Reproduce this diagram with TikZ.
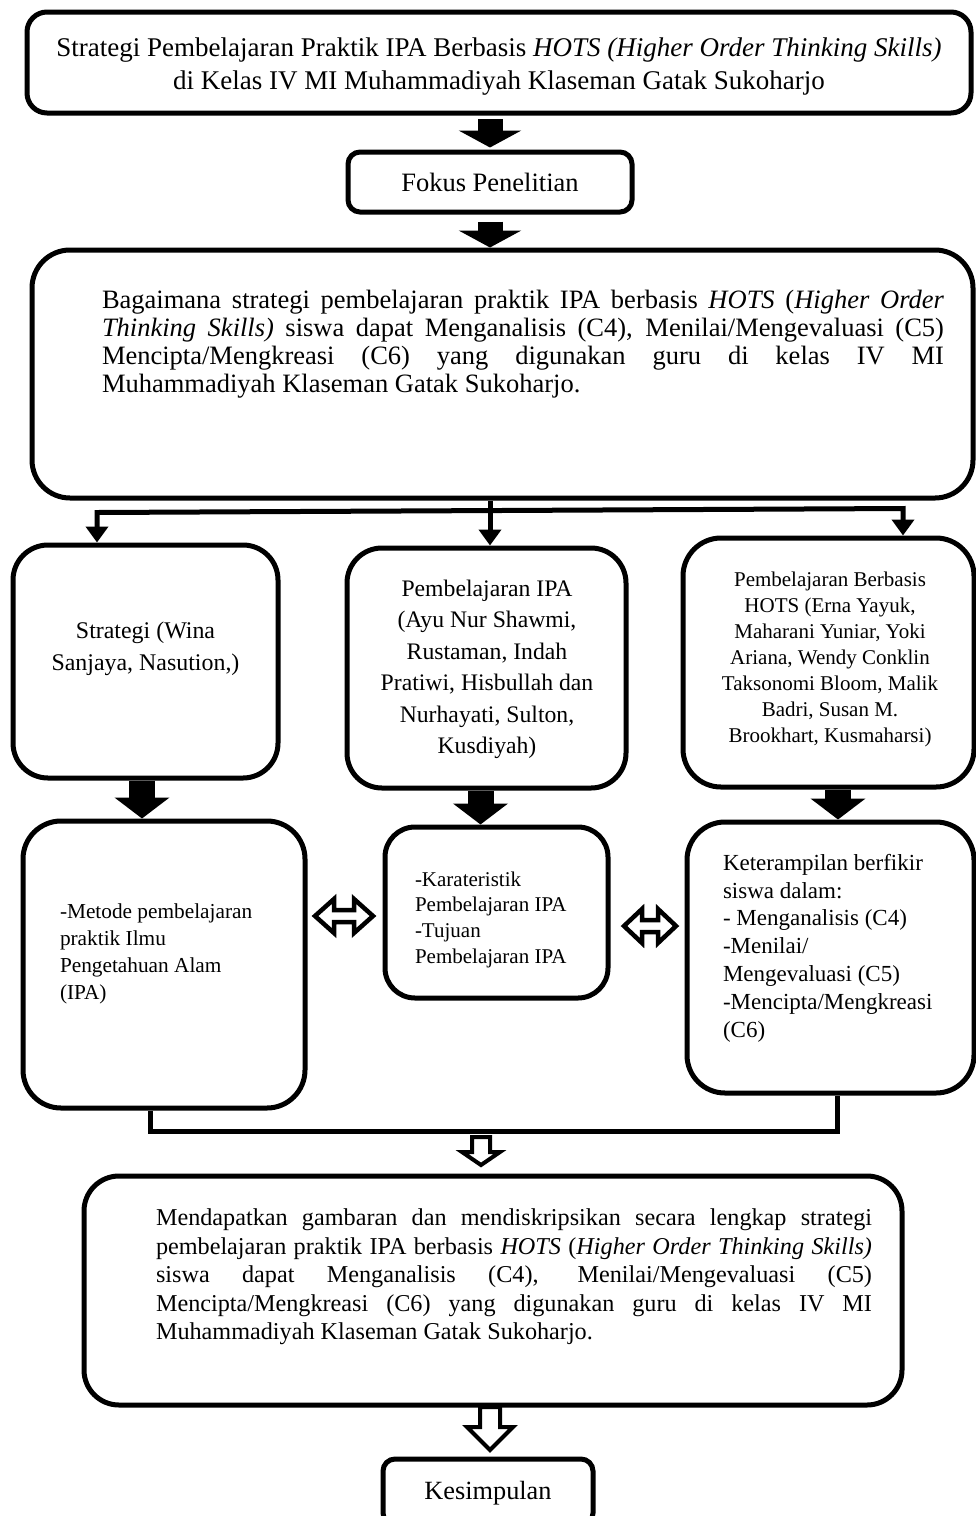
\documentclass[tikz,border=0pt]{standalone}
\usepackage{fontspec}
\setmainfont{Liberation Serif}
\usetikzlibrary{arrows.meta,calc}
\newcommand{\setfs}[2]{\fontsize{#1pt}{#2pt}\selectfont}
\tolerance=9999
\hyphenpenalty=10000
\exhyphenpenalty=10000
\tikzset{
  pics/hdown/.style n args={4}{code={
    \draw[line width=4pt, fill=white, line join=miter]
      (-#1,-#3) -- (#1,-#3) -- (#1,#3-#4) -- (#2,#3-#4) -- (0,#3)
      -- (-#2,#3-#4) -- (-#1,#3-#4) -- cycle;}},
  pics/hdouble/.style n args={4}{code={
    \draw[line width=4.5pt, fill=white, line join=miter]
      (-#3,0) -- (-#3+#4,-#2) -- (-#3+#4,-#1) -- (#3-#4,-#1) -- (#3-#4,-#2)
      -- (#3,0) -- (#3-#4,#2) -- (#3-#4,#1) -- (-#3+#4,#1) -- (-#3+#4,#2) -- cycle;}}
}
\begin{document}
\begin{tikzpicture}[x=1pt,y=-1pt, line join=miter,
  box/.style={draw, line width=5pt, rounded corners=#1, inner sep=0pt},
  box/.default=35pt,
  txt/.style={inner sep=0pt, outer sep=0pt},
  blockA/.style={line width=25pt, -{Triangle[width=62pt,length=17pt]}},
  blockB/.style={line width=26pt, -{Triangle[width=54pt,length=21pt]}},
  conn/.style={line width=5pt}
]
\useasboundingbox (0,0) rectangle (976,1516);

% boxes
\node[box=20pt, minimum width=944pt, minimum height=101pt] (top) at (499,62.5) {};
\node[box=12pt, minimum width=284pt, minimum height=60pt] (fokus) at (490,182) {};
\node[box=38pt, minimum width=941pt, minimum height=248pt] (main) at (502.5,374) {};
\node[box=35pt, minimum width=265pt, minimum height=233pt] (b1) at (145.5,661.5) {};
\node[box=35pt, minimum width=279pt, minimum height=240pt] (b2) at (486.5,668) {};
\node[box=38pt, minimum width=291pt, minimum height=249pt] (b3) at (828.5,662.5) {};
\node[box=38pt, minimum width=282pt, minimum height=287pt] (c1) at (164,964.5) {};
\node[box=30pt, minimum width=223pt, minimum height=171pt] (c2) at (496.5,912.5) {};
\node[box=38pt, minimum width=287pt, minimum height=271pt] (c3) at (830.5,957.5) {};
\node[box=35pt, minimum width=818pt, minimum height=229pt] (bot) at (493,1290.5) {};
\node[box=12pt, minimum width=210pt, minimum height=66pt] (kes) at (488,1492) {};

% texts
\node[txt, align=center, font=\setfs{27}{33}] (toptxt) at (499,67)
 {Strategi Pembelajaran Praktik IPA Berbasis \textit{HOTS (Higher Order Thinking Skills)}\\
  di Kelas IV MI Muhammadiyah Klaseman Gatak Sukoharjo};
\node[txt, font=\setfs{26.5}{30}] (fokustxt) at (fokus) {Fokus Penelitian};
\node[txt, anchor=north west, text width=842pt, align=justify, font=\setfs{26.5}{28}] (maintxt) at (102,290)
 {Bagaimana strategi pembelajaran praktik IPA berbasis \textit{HOTS} (\textit{Higher Order}\linebreak
  \textit{Thinking Skills)} siswa dapat Menganalisis (C4), Menilai/Mengevaluasi (C5)\linebreak
  Mencipta/Mengkreasi (C6) yang digunakan guru di kelas IV MI\linebreak
  Muhammadiyah Klaseman Gatak Sukoharjo.};
\node[txt, align=center, font=\setfs{23.9}{32}] (b1txt) at (145.5,649)
 {Strategi (Wina\\Sanjaya, Nasution,)};
\node[txt, align=center, font=\setfs{23.7}{31.5}] (b2txt) at (487,669.5)
 {Pembelajaran IPA\\(Ayu Nur Shawmi,\\Rustaman, Indah\\Pratiwi, Hisbullah dan\\Nurhayati, Sulton,\\Kusdiyah)};
\node[txt, align=center, font=\setfs{21}{26}] (b3txt) at (830,659)
 {Pembelajaran Berbasis\\HOTS (Erna Yayuk,\\Maharani Yuniar, Yoki\\Ariana, Wendy Conklin\\Taksonomi Bloom, Malik\\Badri, Susan M.\\Brookhart, Kusmaharsi)};
\node[txt, anchor=west, align=left, font=\setfs{21.3}{27}] (c1txt) at (60,953.5)
 {-Metode pembelajaran\\praktik Ilmu\\Pengetahuan Alam\\(IPA)};
\node[txt, anchor=west, align=left, font=\setfs{21}{25.7}] (c2txt) at (415,919.5)
 {-Karateristik\\Pembelajaran IPA\\-Tujuan\\Pembelajaran IPA};
\node[txt, anchor=west, align=left, font=\setfs{23}{27.8}] (c3txt) at (723,948)
 {Keterampilan berfikir\\siswa dalam:\\- Menganalisis (C4)\\-Menilai/\\Mengevaluasi (C5)\\-Mencipta/Mengkreasi\\(C6)};
\node[txt, anchor=north west, text width=716pt, align=justify, font=\setfs{24.2}{28.5}] (bottxt) at (156,1209)
 {Mendapatkan gambaran dan mendiskripsikan secara lengkap strategi\linebreak
  pembelajaran praktik IPA berbasis \textit{HOTS} (\textit{Higher Order Thinking Skills)}\linebreak
  siswa dapat Menganalisis (C4), Menilai/Mengevaluasi (C5)\linebreak
  Mencipta/Mengkreasi (C6) yang digunakan guru di kelas IV MI\linebreak
  Muhammadiyah Klaseman Gatak Sukoharjo.};
\node[txt, font=\setfs{26.3}{30}] (kestxt) at (488,1493) {Kesimpulan};

% solid block arrows
\draw[blockA, shorten <=3.5pt, shorten >=2pt] ([xshift=-9pt]top.south) -- ([xshift=-9pt]top.south |- fokus.north);
\draw[blockA, shorten <=7pt] (fokus.south) -- (fokus.south |- main.north);
\draw[blockB] ([xshift=-3.5pt]b1.south) -- ([xshift=-3.5pt]b1.south |- c1.north);
\draw[blockB] ([xshift=-6pt]b2.south) -- ([xshift=-6pt]b2.south |- c2.north);
\draw[blockB] ([xshift=9.5pt]b3.south) -- ([xshift=9.5pt]b3.south |- c3.north);

% branching connector
\coordinate (bl) at (97,512.5);
\coordinate (br) at (903,508.5);
\draw[conn, -{Triangle[width=22pt,length=16pt]}] ([xshift=-12.5pt]main.south) -- ([xshift=-12.5pt]main.south |- b2.north);
\draw[conn, {Triangle[width=22pt,length=16pt]}-{Triangle[width=22pt,length=16pt]}]
  (bl |- b1.north) -- (bl) -- (br) -- (br |- b3.north);

% double arrows
\pic at (344,916) {hdouble={6}{17}{29}{19}};
\pic at (650,926) {hdouble={6}{17}{26}{18}};

% joining connector
\coordinate (k) at (481,1131);
\draw[conn] ([xshift=-14pt]c1.south) |- (k) -| ([xshift=6.5pt]c3.south);

% hollow arrows
\pic at ($(k)+(0,20)$) {hdown={9}{19}{14}{13}};
\pic at (490,1428.5) {hdown={10}{23}{21.5}{23}};
\end{tikzpicture}
\end{document}
